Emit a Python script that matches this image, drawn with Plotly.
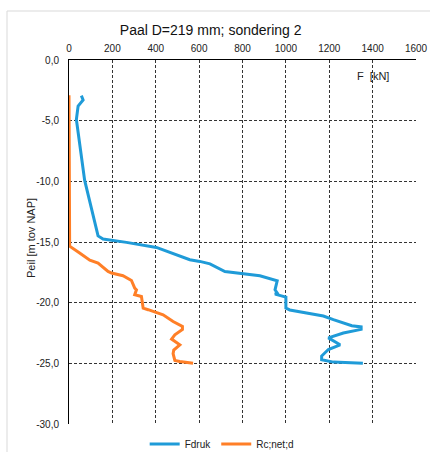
import plotly.graph_objects as go

# Fdruk (blue)
fdruk_F = [57, 65, 42, 34, 72, 134, 157, 265, 403, 557, 603, 650, 719, 880, 960, 950, 960, 950,
           1000, 1000, 1018, 1173, 1219, 1304, 1347, 1347, 1265, 1196, 1250, 1196, 1165, 1165, 1219, 1355]
fdruk_z = [-2.94, -3.3, -3.8, -4.9, -9.9, -14.5, -14.76, -15.03, -15.45, -16.46, -16.6, -16.8, -17.43,
           -17.78, -18.2, -18.94, -19.2, -19.3, -19.54, -20.45, -20.6, -21.1, -21.4, -21.9, -22.0, -22.2,
           -22.5, -22.9, -23.47, -23.86, -24.4, -24.7, -24.9, -25.0]

# Rc;net;d (orange)
rc_F = [0, 0, 3, 49, 96, 134, 180, 196, 249, 288, 303, 311, 303, 334, 342, 365, 434, 480, 523, 523,
        488, 473, 511, 483, 480, 488, 511, 572]
rc_z = [-2.9, -15.0, -15.35, -15.9, -16.5, -16.74, -17.43, -17.56, -17.78, -18.17, -18.8, -18.94,
        -19.35, -19.49, -20.45, -20.58, -21.0, -21.55, -21.96, -22.2, -22.65, -23.0, -23.47, -23.9,
        -24.2, -24.76, -24.85, -25.0]

x_ticks = [0, 200, 400, 600, 800, 1000, 1200, 1400, 1600]
y_ticks = [0, -5, -10, -15, -20, -25, -30]
y_ticktext = ["0,0", "-5,0", "-10,0", "-15,0", "-20,0", "-25,0", "-30,0"]

FONT = "Liberation Sans, Arial, sans-serif"

fig = go.Figure()
fig.add_trace(go.Scatter(x=fdruk_F, y=fdruk_z, mode="lines", name="Fdruk",
                         line=dict(color="#1f9bd8", width=3)))
fig.add_trace(go.Scatter(x=rc_F, y=rc_z, mode="lines", name="Rc;net;d",
                         line=dict(color="#ff7f27", width=3)))

fig.update_layout(
    width=430, height=452,
    margin=dict(l=69, r=14, t=60, b=28, autoexpand=False),
    paper_bgcolor="white", plot_bgcolor="white",
    font=dict(family=FONT, color="#222", size=10),
    title=dict(text="Paal D=219 mm; sondering 2", x=0.49, xanchor="center",
               y=1 - 30 / 452, yanchor="middle", font=dict(size=14, color="#111")),
    showlegend=True,
    legend=dict(orientation="h", x=0.44, xanchor="center", y=-0.055, yanchor="middle",
                font=dict(size=10, color="#222"), itemwidth=30, tracegroupgap=0,
                bgcolor="rgba(0,0,0,0)"),
    xaxis=dict(side="top", range=[0, 1600], tickvals=x_ticks, ticks="",
               showgrid=True, gridcolor="#333", griddash="3px,2px", gridwidth=1,
               showline=True, linecolor="black", linewidth=1, zeroline=False,
               ticklabelstandoff=3,
               tickfont=dict(size=10), fixedrange=True),
    yaxis=dict(range=[-30, 0], tickvals=y_ticks, ticktext=y_ticktext, ticks="",
               showgrid=True, gridcolor="#333", griddash="3px,2px", gridwidth=1,
               showline=True, linecolor="black", linewidth=1, zeroline=False,
               ticklabelstandoff=7,
               tickfont=dict(size=10), fixedrange=True),
)

# outer light border of the chart area
fig.add_shape(type="rect", xref="paper", yref="paper",
              x0=(7 - 69) / 347, x1=1.2, y0=-0.2, y1=1 + (60 - 11) / 364,
              line=dict(color="#d9d9d9", width=1), fillcolor="rgba(0,0,0,0)", layer="below")

# y-axis title
fig.add_annotation(text="Peil [m tov NAP]", xref="paper", yref="paper",
                   x=(31 - 69) / 347, y=(424 - 238) / 364, textangle=-90, showarrow=False,
                   font=dict(size=11, color="#222"), xanchor="center", yanchor="middle")

fig.add_annotation(text="F  [kN]", x=1400, y=-1.3, xref="x", yref="y", showarrow=False,
                   font=dict(size=11, color="#222"), xanchor="center", yanchor="middle")

fig.write_html("out.html")
